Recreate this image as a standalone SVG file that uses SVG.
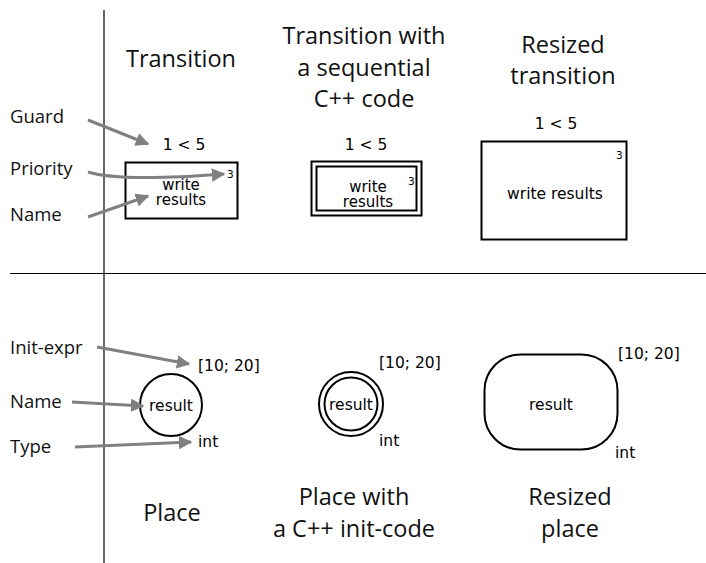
<svg xmlns="http://www.w3.org/2000/svg" width="706" height="563" viewBox="0 0 706 563">
<style>
.title{font-family:"Open Sans","Noto Sans",sans-serif;font-size:23.5px;fill:#111;text-anchor:middle}
.lbl{font-family:"Open Sans","Noto Sans",sans-serif;font-size:18.5px;fill:#111}
.s{font-family:"DejaVu Sans",sans-serif;font-size:15.5px;fill:#000}
.w{font-size:15px}
.c{text-anchor:middle}
.sm{font-family:"DejaVu Sans",sans-serif;font-size:10.5px;fill:#000}
.shape{fill:none;stroke:#000;stroke-width:2}
.arr{fill:none;stroke:#808080;stroke-width:3;marker-end:url(#ah)}
</style>
<defs>
<marker id="ah" viewBox="0 0 10 10" refX="9" refY="5" markerWidth="4.5" markerHeight="4.5" markerUnits="strokeWidth" orient="auto">
<path d="M0,0 L10,5 L0,10 Z" fill="#808080"/>
</marker>
</defs>
<rect width="706" height="563" fill="#fff"/>
<g id="grid">
<line x1="104" y1="10" x2="104" y2="563" stroke="#000" stroke-width="1.2"/>
<line x1="10" y1="273.5" x2="706" y2="273.5" stroke="#000" stroke-width="1.2"/>
</g>
<g id="titles">
<text class="title" x="181" y="67">Transition</text>
<text class="title" x="364" y="44">Transition with</text>
<text class="title" x="364" y="76">a sequential</text>
<text class="title" x="364" y="107">C++ code</text>
<text class="title" x="563" y="53">Resized</text>
<text class="title" x="563" y="84">transition</text>
<text class="title" x="172" y="521">Place</text>
<text class="title" x="354" y="505">Place with</text>
<text class="title" x="354" y="537">a C++ init-code</text>
<text class="title" x="570" y="505">Resized</text>
<text class="title" x="570" y="537">place</text>
</g>
<g id="labels">
<text class="lbl" x="10" y="123">Guard</text>
<text class="lbl" x="10" y="175">Priority</text>
<text class="lbl" x="10" y="221">Name</text>
<text class="lbl" x="10" y="354">Init-expr</text>
<text class="lbl" x="10" y="408">Name</text>
<text class="lbl" x="10" y="453">Type</text>
</g>
<g id="transition1">
<text class="s c" x="184" y="150">1 &lt; 5</text>
<rect class="shape" x="125.5" y="162.5" width="112" height="56"/>
<text class="sm" x="227" y="178">3</text>
<text class="s w c" x="181" y="190">write</text>
<text class="s w c" x="181" y="205">results</text>
</g>
<g id="transition2">
<text class="s c" x="366" y="150">1 &lt; 5</text>
<rect class="shape" x="311.5" y="161.5" width="110" height="54"/>
<rect class="shape" x="316.5" y="166.5" width="100" height="44"/>
<text class="sm" x="408" y="185">3</text>
<text class="s w c" x="368" y="192">write</text>
<text class="s w c" x="368" y="207">results</text>
</g>
<g id="transition3">
<text class="s c" x="556" y="129">1 &lt; 5</text>
<rect class="shape" x="481.5" y="141.5" width="145" height="98"/>
<text class="sm" x="616" y="159">3</text>
<text class="s c" x="555" y="199">write results</text>
</g>
<g id="place1">
<circle class="shape" cx="171" cy="405" r="31"/>
<text class="s c" x="171" y="411">result</text>
<text class="s" x="198" y="371">[10; 20]</text>
<text class="s" x="198" y="447">int</text>
</g>
<g id="place2">
<circle class="shape" cx="351" cy="404" r="32"/>
<circle class="shape" cx="351" cy="404" r="26.5"/>
<text class="s c" x="351" y="410">result</text>
<text class="s" x="379" y="368">[10; 20]</text>
<text class="s" x="379" y="446">int</text>
</g>
<g id="place3">
<rect class="shape" x="484.5" y="354.5" width="133" height="95" rx="36" ry="36"/>
<text class="s c" x="551" y="410">result</text>
<text class="s" x="618" y="359">[10; 20]</text>
<text class="s" x="615" y="458">int</text>
</g>
<g id="connectors">
<path class="arr" d="M88,120 L148,144"/>
<path class="arr" d="M88,172 Q120,182 224,174"/>
<path class="arr" d="M88,217 L148,196"/>
<path class="arr" d="M97,347 L189,364"/>
<path class="arr" d="M72,402 L143,406"/>
<path class="arr" d="M75,447 L191,442"/>
</g>
</svg>
